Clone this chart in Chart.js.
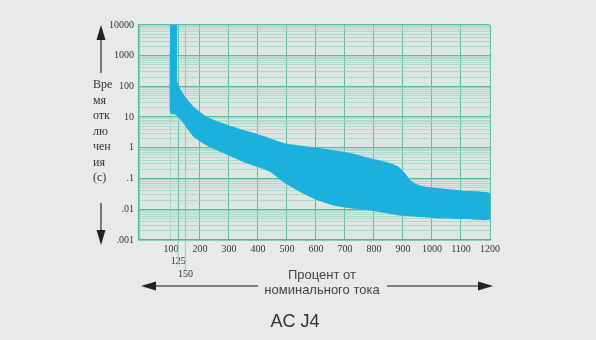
<!DOCTYPE html>
<html>
<head>
<meta charset="utf-8">
<script src="https://cdn.jsdelivr.net/npm/chart.js@4.4.1/dist/chart.umd.min.js"></script>
<style>
  html, body { margin: 0; padding: 0; background: #e8e9e9; }
  canvas { display: block; }
</style>
</head>
<body>
<canvas id="curve" width="596" height="340"></canvas>
<script>
// верхняя граница полосы: ток (%), время (с)
var upperX = [122, 122, 134, 152, 179, 214, 248, 296, 351, 409, 488, 605, 719, 788, 856, 885, 897, 912, 925, 940, 959, 990, 1028, 1110, 1200];
var upperY = [10000, 145, 78, 43, 21.6, 11.8, 8.1, 5.6, 3.8, 2.6, 1.44, 1.0, 0.68, 0.46, 0.32, 0.24, 0.19, 0.13, 0.089, 0.072, 0.06, 0.053, 0.048, 0.04, 0.033];
// нижняя граница полосы (от 1200 назад к 100)
var lowerX = [1200, 1110, 1028, 960, 890, 788, 719, 660, 605, 547, 488, 444, 409, 351, 296, 238, 203, 179, 152, 134, 117, 97, 97];
var lowerY = [0.0047, 0.0048, 0.005, 0.0056, 0.0063, 0.0092, 0.0108, 0.0134, 0.0196, 0.036, 0.076, 0.16, 0.22, 0.34, 0.58, 1.0, 1.55, 2.24, 4.8, 8.1, 11.8, 13.7, 10000];

var xTicks = [100, 125, 150, 200, 300, 400, 500, 600, 700, 800, 900, 1000, 1100, 1200];
var yTicks = [0.001, 0.01, 0.1, 1, 10, 100, 1000, 10000];
var yTickLabels = ['.001', '.01', '.1', '1', '10', '100', '1000', '10000'];
var yTitleLines = ['Вре', 'мя', 'отк', 'лю', 'чен', 'ия', '(с)'];
var xTitleLines = ['Процент от', 'номинального тока'];

var bandPoints = [];
for (var i = 0; i < upperX.length; i++) bandPoints.push({x: upperX[i], y: upperY[i]});
for (var j = 0; j < lowerX.length; j++) bandPoints.push({x: lowerX[j], y: lowerY[j]});

function decadeIndex(v) {
  for (var k = 0; k < yTicks.length; k++) {
    if (Math.abs(Math.log10(v) - Math.log10(yTicks[k])) < 1e-6) return k;
  }
  return -1;
}

function arrow(c, x1, y1, x2, y2) {
  var ang = Math.atan2(y2 - y1, x2 - x1), len = 15, hw = 4.5;
  var bx = x2 - len * Math.cos(ang), by = y2 - len * Math.sin(ang);
  c.strokeStyle = '#5a5a5a';
  c.lineWidth = 1.6;
  c.beginPath(); c.moveTo(x1, y1); c.lineTo(bx, by); c.stroke();
  c.fillStyle = '#222';
  c.beginPath();
  c.moveTo(x2, y2);
  c.lineTo(bx - hw * Math.sin(ang), by + hw * Math.cos(ang));
  c.lineTo(bx + hw * Math.sin(ang), by - hw * Math.cos(ang));
  c.closePath(); c.fill();
}

var decor = {
  id: 'decor',
  beforeDraw: function (chart) {
    var c = chart.ctx, a = chart.chartArea;
    c.save();
    c.fillStyle = '#e8e9e9';
    c.fillRect(0, 0, chart.width, chart.height);
    c.fillStyle = '#dce6e3';
    c.fillRect(a.left, a.top, a.right - a.left, a.bottom - a.top);
    c.restore();
  },
  afterDraw: function (chart) {
    var c = chart.ctx, a = chart.chartArea, xs = chart.scales.x;
    c.save();
    // удлинённые засечки 125 и 150
    c.strokeStyle = '#8fcfba';
    c.lineWidth = 1;
    c.beginPath();
    c.moveTo(xs.getPixelForValue(125), a.bottom); c.lineTo(xs.getPixelForValue(125), 265);
    c.moveTo(xs.getPixelForValue(150), a.bottom); c.lineTo(xs.getPixelForValue(150), 270);
    c.stroke();
    // подпись оси Y
    c.fillStyle = '#333';
    c.font = '12px "Liberation Serif"';
    c.textAlign = 'left';
    c.textBaseline = 'middle';
    yTitleLines.forEach(function (t, k) { c.fillText(t, 93, 85 + k * 15.5); });
    arrow(c, 101, 73, 101, 25);
    arrow(c, 101, 203, 101, 245);
    // подпись оси X
    c.fillStyle = '#444';
    c.font = '13px "Liberation Sans"';
    c.textAlign = 'center';
    c.fillText(xTitleLines[0], 322, 275);
    c.fillText(xTitleLines[1], 322, 290);
    arrow(c, 258, 286, 141, 286);
    arrow(c, 387, 286, 493, 286);
    c.restore();
  }
};

new Chart(document.getElementById('curve'), {
  type: 'line',
  data: {
    datasets: [{
      data: bandPoints,
      fill: 'shape',
      backgroundColor: '#1cb1dc',
      borderWidth: 0,
      borderColor: '#1cb1dc',
      pointRadius: 0,
      tension: 0.15
    }]
  },
  options: {
    responsive: false,
    animation: false,
    devicePixelRatio: 1,
    layout: { padding: { left: 100, right: 106, top: 25, bottom: 0 } },
    plugins: {
      legend: { display: false },
      tooltip: { enabled: false },
      title: {
        display: true,
        position: 'bottom',
        text: 'AC J4',
        color: '#333',
        font: { family: 'Liberation Sans', size: 18, weight: 'normal', lineHeight: 1.2 },
        padding: { top: 0, bottom: 7 }
      }
    },
    scales: {
      x: {
        type: 'linear',
        min: -10,
        max: 1200,
        afterBuildTicks: function (s) { s.ticks = xTicks.map(function (v) { return {value: v}; }); },
        afterFit: function (s) { s.height = 71.4; },
        ticks: {
          autoSkip: false,
          maxRotation: 0,
          padding: 3,
          color: '#333',
          font: { family: 'Liberation Serif', size: 10, lineHeight: 1.25 },
          callback: function (v) {
            if (v === 125) return ['', '125'];
            if (v === 150) return ['', '', '150'];
            return String(v);
          }
        },
        grid: {
          drawTicks: false,
          color: function (ctx) {
            var v = ctx.tick && ctx.tick.value;
            if (v === 100) return '#a9d8c8';
            if (v === 150) return '#86cbb5';
            return '#5fbb9e';
          },
          lineWidth: 1
        },
        border: { color: '#4db393', width: 1.5 }
      },
      y: {
        type: 'logarithmic',
        min: 0.001,
        max: 10000,
        afterBuildTicks: function (s) {
          var t = [];
          for (var k = -3; k < 4; k++) {
            for (var m = 1; m < 10; m++) t.push({value: Number((m * Math.pow(10, k)).toPrecision(3))});
          }
          t.push({value: 10000});
          s.ticks = t;
        },
        afterFit: function (s) { s.width = 39; },
        ticks: {
          autoSkip: false,
          padding: 5,
          color: '#333',
          font: { family: 'Liberation Serif', size: 10 },
          callback: function (v) {
            var k = decadeIndex(v);
            return k >= 0 ? yTickLabels[k] : '';
          }
        },
        grid: {
          drawTicks: false,
          color: function (ctx) {
            var v = ctx.tick && ctx.tick.value;
            return decadeIndex(v) >= 0 ? '#5fbb9e' : '#a3d6c6';
          },
          lineWidth: function (ctx) {
            var v = ctx.tick && ctx.tick.value;
            return decadeIndex(v) >= 0 ? 1.3 : 0.8;
          }
        },
        border: { color: '#4db393', width: 1.5 }
      }
    }
  },
  plugins: [decor]
});
</script>
</body>
</html>
